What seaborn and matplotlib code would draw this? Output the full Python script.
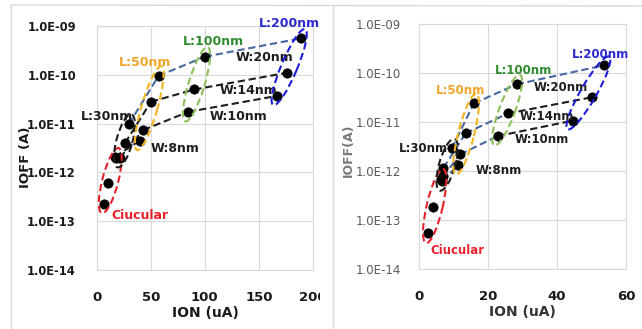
import numpy as np
import pandas as pd
import matplotlib
matplotlib.use("Agg")
import matplotlib.pyplot as plt
import seaborn as sns
from matplotlib.patches import Ellipse
from matplotlib.transforms import IdentityTransform, Bbox
from matplotlib.ticker import FixedLocator, FuncFormatter, NullLocator

# width series, lengths in order L:30, L:50, L:100, L:200
widths = ["W:8nm", "W:10nm", "W:14nm", "W:20nm"]
lengths = ["L:30nm", "L:50nm", "L:100nm", "L:200nm"]

# left panel (ION uA, IOFF A)
left_ion = [[16.9, 40.0], [21.5, 43.1, 84.6, 166.8], [26.2, 50.2, 90.2, 176.0], [29.8, 57.2, 100.0, 189.2]]
left_ioff = [[2.1e-12, 4.5e-12], [2.0e-12, 7.4e-12, 1.74e-11, 3.7e-11],
             [4.0e-12, 2.8e-11, 5.0e-11, 1.1e-10], [9.8e-12, 9.5e-11, 2.35e-10, 5.6e-10]]
left_circ_ion = [7.1, 10.2, 18.0]
left_circ_ioff = [2.3e-13, 6.2e-13, 2.0e-12]

# right panel
right_ion = [[6.8, 11.4], [7.0, 11.9, 22.8, 44.5], [7.1, 13.5, 25.7, 50.0], [9.5, 15.9, 28.3, 53.7]]
right_ioff = [[6.3e-13, 1.35e-12], [7.8e-13, 2.2e-12, 5.2e-12, 1.07e-11],
              [1.17e-12, 5.9e-12, 1.5e-11, 3.2e-11], [2.9e-12, 2.4e-11, 5.9e-11, 1.44e-10]]
right_circ_ion = [2.7, 4.0, 6.4]
right_circ_ioff = [5.4e-14, 1.9e-13, 7.0e-13]

BLU = "#48689f"
BLK = "#1e1e1e"
left_seg_colors = [[BLK], [BLK, BLK, BLK], [BLK, BLK, BLK], [BLU, BLU, BLU]]
right_seg_colors = [[BLU], [BLU, BLU, BLK], [BLU, BLU, BLK], [BLU, BLU, BLU]]

ell_colors = {"Circular": "#e8202a", "L:30nm": "#1e1e1e", "L:50nm": "#f2b31e",
              "L:100nm": "#8cc05a", "L:200nm": "#1c1cd6"}

left_labels = [("L:200nm", 178, 1.1e-9, "#2a2ad0"), ("L:100nm", 108, 4.8e-10, "#2e8b2e"),
               ("L:50nm", 44.6, 1.8e-10, "#f2a428"), ("L:30nm", 9.2, 1.38e-11, BLK),
               ("Ciucular", 40, 1.29e-13, "#e8202a"), ("W:20nm", 155, 2.25e-10, BLK),
               ("W:14nm", 140, 4.7e-11, BLK), ("W:10nm", 131, 1.38e-11, BLK), ("W:8nm", 72, 3.1e-12, BLK)]
right_labels = [("L:200nm", 52.7, 2.4e-10, "#2a2ad0"), ("L:100nm", 30.2, 1.12e-10, "#2e8b2e"),
                ("L:50nm", 11.9, 4.4e-11, "#f2a428"), ("L:30nm", 1.3, 2.95e-12, BLK),
                ("Ciucular", 11.1, 2.4e-14, "#e8202a"), ("W:20nm", 41.1, 5.1e-11, BLK),
                ("W:14nm", 37.0, 1.29e-11, BLK), ("W:10nm", 35.6, 4.5e-12, BLK), ("W:8nm", 23.0, 1.02e-12, BLK)]


def build_df(ion, ioff, circ_ion, circ_ioff):
    rows = []
    for wi, w in enumerate(widths):
        for li, (x, y) in enumerate(zip(ion[wi], ioff[wi])):
            rows.append({"W": w, "L": lengths[li], "ION": x, "IOFF": y})
    for x, y in zip(circ_ion, circ_ioff):
        rows.append({"W": "-", "L": "Circular", "ION": x, "IOFF": y})
    return pd.DataFrame(rows)


sns.set_style("white")
plt.rcParams["font.family"] = ["DejaVu Sans"]

fig = plt.figure(figsize=(6.42, 3.29), dpi=100)
axL = fig.add_axes([96.7 / 642, (329 - 270) / 329, 216.3 / 642, 244 / 329])
axR = fig.add_axes([419 / 642, (329 - 269.3) / 329, 207 / 642, 245.3 / 329])

# panel frames from the screenshot
fig.add_artist(plt.Line2D([11, 11], [0, 324], transform=IdentityTransform(), color="#d9d9d9", lw=1))
fig.add_artist(plt.Line2D([333, 333], [0, 323], transform=IdentityTransform(), color="#d9d9d9", lw=1))
fig.add_artist(plt.Line2D([11, 642], [324, 323], transform=IdentityTransform(), color="#d9d9d9", lw=1))

panels = [
    (axL, build_df(left_ion, left_ioff, left_circ_ion, left_circ_ioff), left_seg_colors, left_labels,
     (0, 200), [0, 50, 100, 150, 200], True, 9),
    (axR, build_df(right_ion, right_ioff, right_circ_ion, right_circ_ioff), right_seg_colors, right_labels,
     (0, 60), [0, 20, 40, 60], False, 8.5),
]

clip_left = Bbox.from_extents(0, 0, 320, 329)

for ax, df, seg_colors, labels, xlim, xticks, bold, fs in panels:
    ax.set_yscale("log")
    ax.set_xlim(*xlim)
    ax.set_ylim(1e-14, 1e-9)
    ax.xaxis.set_major_locator(FixedLocator(xticks))
    ax.yaxis.set_major_locator(FixedLocator([1e-14, 1e-13, 1e-12, 1e-11, 1e-10, 1e-9]))
    ax.yaxis.set_minor_locator(NullLocator())
    ax.yaxis.set_major_formatter(FuncFormatter(lambda v, p: f"{v:.1E}"))
    ax.grid(True, color="#d9d9d9", lw=0.8)
    for s in ax.spines.values():
        s.set_color("#d9d9d9")
        s.set_linewidth(0.8)
    ax.tick_params(length=0, pad=15)
    ax.tick_params(axis="x", labelsize=9.5, labelcolor="#1a1a1a")
    if bold:
        ax.tick_params(axis="y", labelsize=8.3, labelcolor="#1a1a1a")
        for t in ax.get_yticklabels():
            t.set_fontweight("bold")
    else:
        ax.tick_params(axis="y", labelsize=8.5, labelcolor="#595959", pad=13)
    for t in ax.get_xticklabels():
        t.set_fontweight("bold")

    # dashed lines per width series, segment by segment
    for wi, w in enumerate(widths):
        sub = df[df["W"] == w].reset_index(drop=True)
        for k in range(len(sub) - 1):
            sns.lineplot(data=sub.iloc[k:k + 2], x="ION", y="IOFF", ax=ax, color=seg_colors[wi][k],
                         lw=1.5, linestyle=(0, (3.5, 1.8)), sort=False, estimator=None)

    # dashed ellipses around each length group, in pixel space
    fig.canvas.draw()
    for grp, col in ell_colors.items():
        sub = df[df["L"] == grp]
        pts = ax.transData.transform(np.column_stack([sub["ION"], sub["IOFF"]]))
        pts = pts[np.argsort(pts[:, 1])]
        p0, p1 = pts[0], pts[-1]
        c = (p0 + p1) / 2
        d = p1 - p0
        ang = np.degrees(np.arctan2(d[1], d[0]))
        e = Ellipse(c, np.hypot(*d) + 20, 16, angle=ang, transform=IdentityTransform(),
                    fill=False, ec=col, lw=1.5, ls=(0, (3.5, 1.8)), zorder=3)
        fig.add_artist(e)
        if ax is axL:
            e.set_clip_box(clip_left)

    sns.scatterplot(data=df, x="ION", y="IOFF", ax=ax, color="black", s=45, edgecolor="black",
                    zorder=5, legend=False)
    ax.set_xlabel("")
    ax.set_ylabel("")

    for txt, x, y, col in labels:
        t = ax.text(x, y, txt, color=col, fontsize=fs, fontweight="bold", ha="center", va="center", zorder=6)
        if ax is axL:
            t.set_clip_box(clip_left)
            t.set_clip_on(True)

for t in axL.get_xticklabels():
    t.set_clip_box(clip_left)
    t.set_clip_on(True)

fig.text(205 / 642, 1 - 313 / 329, "ION (uA)", ha="center", va="center", fontsize=10, fontweight="bold",
         color="#1a1a1a")
fig.text(522 / 642, 1 - 312 / 329, "ION (uA)", ha="center", va="center", fontsize=10, fontweight="bold",
         color="#333333")
fig.text(25 / 642, 1 - 157 / 329, "IOFF (A)", ha="center", va="center", rotation=90, fontsize=9.5,
         fontweight="bold", color="#1a1a1a")
fig.text(348 / 642, 1 - 150 / 329, "IOFF(A)", ha="center", va="center", rotation=90, fontsize=9,
         fontweight="bold", color="#7a7a7a")

fig.savefig("out.png", dpi=100)
